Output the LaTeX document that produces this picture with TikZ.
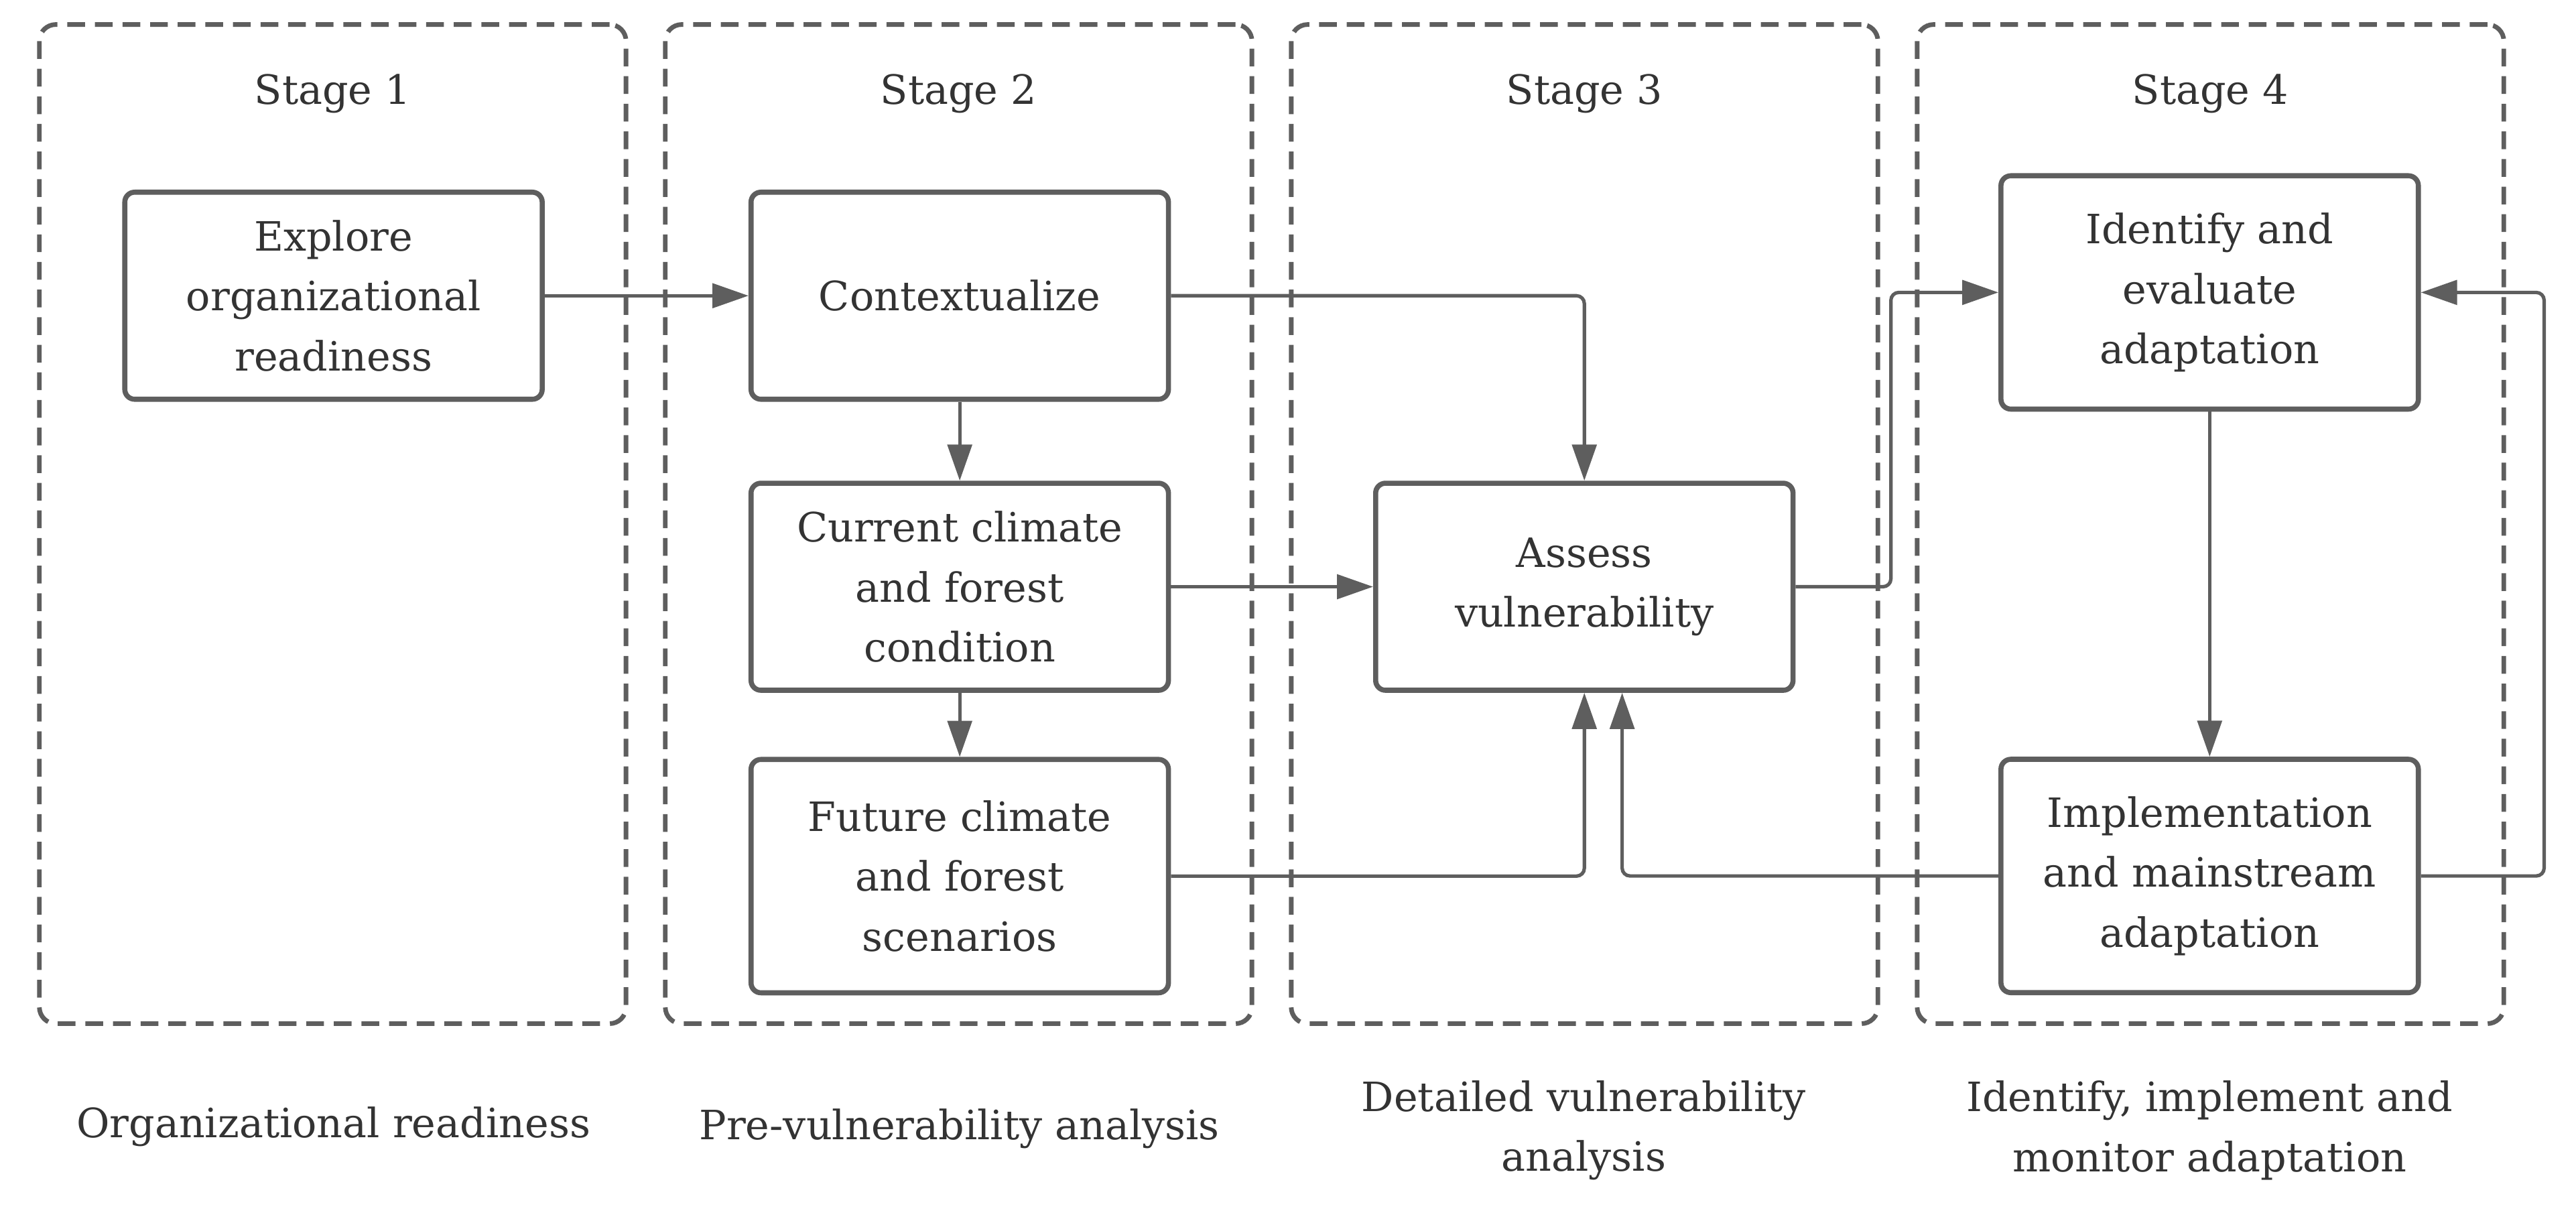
\documentclass[tikz,border=0pt]{standalone}
\usepackage{fontspec}
\setmainfont{DejaVu Serif}
\usepackage{tikz}
\usetikzlibrary{positioning}
\usetikzlibrary{arrows.meta}
\definecolor{G0}{HTML}{5E5E5E}
\definecolor{G1}{HTML}{333333}

\begin{document}
\begin{tikzpicture}[x=0.025cm,y=-0.025cm,
  stage/.style={draw=G0, line width=2pt, dash pattern=on 0.27cm off 0.15cm, rounded corners=0.25cm, minimum width=8.925cm, minimum height=15.2cm},
  box/.style={draw=G0, line width=2.2pt, rounded corners=0.15cm, minimum width=6.35cm, minimum height=3.15cm, inner sep=0pt, align=center, text=G1, font=\fontsize{17.5}{26}\selectfont},
  tall/.style={box, minimum height=3.55cm},
  lbl/.style={align=center, text=G1, font=\fontsize{17.5}{26}\selectfont},
  link/.style={draw=G0, line width=1.5pt, rounded corners=0.12cm, -{Triangle[length=0.55cm,width=0.37cm]}}]
\useasboundingbox (0,0) rectangle (1568,743);
\def \sx {202.5}
\def \sw {381}
\foreach \i in {1,...,4}{
  \node[stage] (stage\i) at ({\sx+\sw*(\i-1)},319) {};
  \node[lbl] (title\i) at ({\sx+\sw*(\i-1)},57) {Stage \i};
}
\node[box] (explore) at (203,180) {Explore\\organizational\\readiness};
\node[box, right=3.1cm of explore] (context) {Contextualize};
\node[box, below=1.2cm of context] (current) {Current climate\\and forest\\condition};
\node[tall, below=0.975cm of current] (future) {Future climate\\and forest\\scenarios};
\node[box, right=3.075cm of current] (assess) {Assess\\vulnerability};
\node[tall] (identify) at (1345,178) {Identify and\\evaluate\\adaptation};
\node[tall, below=5.25cm of identify] (implement) {Implementation\\and mainstream\\adaptation};
\draw[link] (explore) -- (context);
\draw[link] (context) -- (current);
\draw[link] (current) -- (future);
\draw[link] (current) -- (assess);
\draw[link] (context.east) -| (assess.north);
\draw[link] (future.east) -| (assess.south);
\draw[link] (assess.east) -- ++(1.45cm,0) |- (identify.west);
\draw[link] (identify) -- (implement);
\draw[link] (implement.west) -| ([xshift=0.575cm]assess.south);
\draw[link] (implement.east) -- ++(1.875cm,0) |- (identify.east);
\node[lbl] (lab1) at (203,686) {Organizational readiness};
\node[lbl] (lab2) at (584,687) {Pre-vulnerability analysis};
\node[lbl] (lab3) at (964,688) {Detailed vulnerability\\analysis};
\node[lbl] (lab4) at (1345,688) {Identify, implement and\\monitor adaptation};
\end{tikzpicture}
\end{document}
